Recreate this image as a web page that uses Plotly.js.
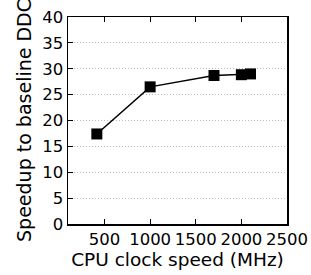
<!DOCTYPE html>
<html><head><meta charset="utf-8">
<script src="https://cdn.plot.ly/plotly-3.0.1.min.js"></script>
<style>html,body{margin:0;padding:0;background:#fff}#c{width:311px;height:275px}</style>
</head><body><div id="c"></div>
<script>
var clockMHz = [416, 1000, 1700, 2000, 2100];
var speedup = [17.4, 26.5, 28.7, 28.85, 29.0];
var xTicks = [500, 1000, 1500, 2000, 2500];
var yTicks = [0, 5, 10, 15, 20, 25, 30, 35, 40];

var trace = {
  x: clockMHz, y: speedup, type: 'scatter', mode: 'lines+markers',
  line: {color: '#000', width: 1.5},
  marker: {symbol: 'square', size: 11, color: '#000'},
  showlegend: false
};
var layout = {
  width: 311, height: 275,
  margin: {l: 68, r: 24, t: 17, b: 51},
  paper_bgcolor: '#fff', plot_bgcolor: '#fff',
  font: {family: 'DejaVu Sans', color: '#000'},
  xaxis: {
    range: [100, 2500], tickvals: xTicks, ticktext: xTicks.map(String),
    ticks: 'inside', ticklen: 5, tickcolor: '#000', tickwidth: 1,
    showline: true, linecolor: '#000', linewidth: 1.5, mirror: 'allticks',
    showgrid: false, zeroline: false,
    tickfont: {family: 'DejaVu Sans', size: 16.5, color: '#000'},
    title: {text: 'CPU clock speed (MHz)', font: {family: 'DejaVu Sans', size: 18.5, color: '#000'}, standoff: 3}
  },
  yaxis: {
    range: [0, 40], tickvals: yTicks, ticktext: yTicks.map(String),
    ticks: 'inside', ticklen: 5, tickcolor: '#000', tickwidth: 1,
    showline: true, linecolor: '#000', linewidth: 1.5, mirror: true,
    showgrid: true, gridcolor: '#bdbdbd', griddash: '1px,2px', gridwidth: 1,
    zeroline: false,
    tickfont: {family: 'DejaVu Sans', size: 16.5, color: '#000'},
    title: {text: 'Speedup to baseline DDC', font: {family: 'DejaVu Sans', size: 19, color: '#000'}, standoff: 5}
  }
};
Plotly.newPlot('c', [trace], layout, {staticPlot: true, displayModeBar: false});
</script></body></html>
